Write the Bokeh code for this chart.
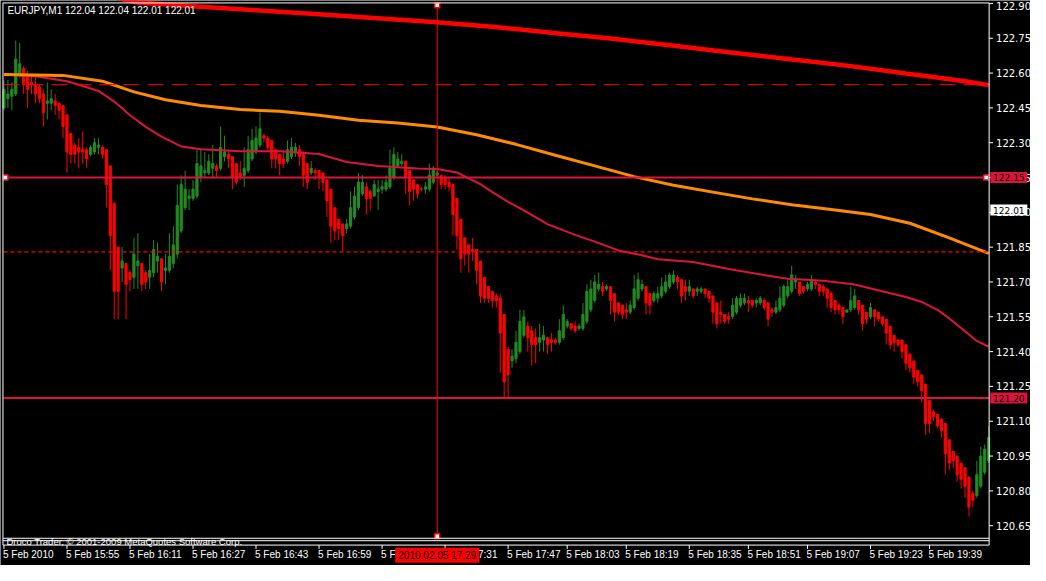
from bokeh.plotting import figure
from bokeh.models import ColumnDataSource, Range1d
from bokeh.core.properties import value
from bokeh.embed import file_html
from bokeh.resources import INLINE

# EURJPY, M1 - 5 Feb 2010, one entry per one-minute bar
opens = [
    122.45, 122.49, 122.50, 122.51, 122.59, 122.62, 122.59, 122.56, 122.55, 122.54,
    122.51, 122.47, 122.47, 122.48, 122.47, 122.46, 122.42, 122.34, 122.29, 122.28,
    122.27, 122.27, 122.25, 122.26, 122.28, 122.28, 122.27, 122.20, 122.04, 121.85,
    121.76, 121.78, 121.74, 121.72, 121.77, 121.78, 121.74, 121.72, 121.74, 121.79,
    121.80, 121.75, 121.75, 121.78, 121.82, 121.92, 122.02, 122.06, 122.06, 122.07,
    122.15, 122.17, 122.17, 122.19, 122.20, 122.19, 122.24, 122.25, 122.24, 122.21,
    122.17, 122.16, 122.18, 122.23, 122.26, 122.29, 122.33, 122.32, 122.31, 122.27,
    122.25, 122.23, 122.22, 122.24, 122.26, 122.27, 122.26, 122.21, 122.17, 122.18,
    122.18, 122.17, 122.14, 122.10, 122.02, 121.97, 121.95, 121.93, 121.94, 121.98,
    122.02, 122.08, 122.11, 122.09, 122.07, 122.09, 122.10, 122.10, 122.11, 122.15,
    122.20, 122.21, 122.22, 122.18, 122.14, 122.12, 122.10, 122.10, 122.10, 122.13,
    122.16, 122.16, 122.15, 122.13, 122.12, 122.06, 121.97, 121.89, 121.86, 121.84,
    121.84, 121.79, 121.72, 121.68, 121.66, 121.64, 121.63, 121.56, 121.41, 121.36,
    121.37, 121.40, 121.47, 121.51, 121.49, 121.46, 121.44, 121.45, 121.46, 121.45,
    121.45, 121.44, 121.46, 121.51, 121.52, 121.51, 121.50, 121.50, 121.53, 121.58,
    121.62, 121.67, 121.68, 121.67, 121.68, 121.65, 121.61, 121.60, 121.58, 121.57,
    121.59, 121.63, 121.67, 121.68, 121.65, 121.62, 121.63, 121.64, 121.66, 121.68,
    121.70, 121.72, 121.71, 121.68, 121.66, 121.67, 121.66, 121.66, 121.67, 121.66,
    121.64, 121.61, 121.57, 121.56, 121.55, 121.55, 121.57, 121.60, 121.61, 121.62,
    121.62, 121.61, 121.61, 121.62, 121.61, 121.58, 121.57, 121.58, 121.60, 121.64,
    121.66, 121.70, 121.70, 121.68, 121.67, 121.67, 121.70, 121.69, 121.68, 121.67,
    121.65, 121.62, 121.60, 121.59, 121.57, 121.58, 121.59, 121.62, 121.60, 121.57,
    121.55, 121.58, 121.57, 121.55, 121.54, 121.51, 121.47, 121.45, 121.45, 121.43,
    121.39, 121.36, 121.32, 121.30, 121.26, 121.19, 121.14, 121.13, 121.11, 121.09,
    121.02, 120.97, 120.95, 120.92, 120.90, 120.86, 120.79, 120.78, 120.82, 120.88,
    120.93,
]
highs = [
    122.57, 122.57, 122.56, 122.74, 122.73, 122.63, 122.61, 122.59, 122.59, 122.55,
    122.53, 122.56, 122.53, 122.51, 122.47, 122.46, 122.42, 122.34, 122.30, 122.32,
    122.35, 122.28, 122.29, 122.32, 122.32, 122.29, 122.27, 122.20, 122.04, 121.85,
    121.85, 121.78, 121.75, 121.89, 121.91, 121.78, 121.75, 121.82, 121.88, 121.87,
    121.80, 121.82, 121.91, 121.94, 122.12, 122.16, 122.18, 122.10, 122.14, 122.27,
    122.27, 122.26, 122.25, 122.29, 122.21, 122.37, 122.33, 122.26, 122.24, 122.21,
    122.22, 122.28, 122.33, 122.36, 122.37, 122.43, 122.34, 122.33, 122.31, 122.27,
    122.25, 122.27, 122.31, 122.32, 122.30, 122.29, 122.26, 122.21, 122.22, 122.19,
    122.18, 122.17, 122.14, 122.10, 122.02, 121.97, 121.95, 121.97, 122.09, 122.11,
    122.17, 122.16, 122.13, 122.10, 122.14, 122.14, 122.14, 122.16, 122.27, 122.28,
    122.26, 122.25, 122.22, 122.18, 122.14, 122.12, 122.11, 122.13, 122.21, 122.20,
    122.18, 122.16, 122.16, 122.15, 122.12, 122.06, 121.97, 121.89, 121.86, 121.89,
    121.84, 121.79, 121.72, 121.68, 121.66, 121.65, 121.65, 121.56, 121.42, 121.41,
    121.49, 121.58, 121.58, 121.53, 121.51, 121.50, 121.52, 121.51, 121.46, 121.48,
    121.46, 121.54, 121.60, 121.54, 121.52, 121.53, 121.52, 121.61, 121.69, 121.71,
    121.73, 121.74, 121.70, 121.69, 121.68, 121.65, 121.61, 121.60, 121.61, 121.62,
    121.73, 121.74, 121.71, 121.68, 121.65, 121.66, 121.68, 121.72, 121.73, 121.74,
    121.75, 121.73, 121.71, 121.71, 121.71, 121.67, 121.68, 121.68, 121.67, 121.66,
    121.64, 121.61, 121.62, 121.56, 121.57, 121.63, 121.64, 121.65, 121.65, 121.64,
    121.62, 121.63, 121.64, 121.63, 121.61, 121.59, 121.62, 121.68, 121.69, 121.71,
    121.77, 121.73, 121.70, 121.68, 121.70, 121.73, 121.71, 121.69, 121.69, 121.67,
    121.66, 121.62, 121.61, 121.59, 121.58, 121.68, 121.67, 121.62, 121.60, 121.57,
    121.61, 121.58, 121.57, 121.55, 121.54, 121.51, 121.47, 121.45, 121.45, 121.43,
    121.39, 121.36, 121.32, 121.30, 121.26, 121.19, 121.15, 121.13, 121.11, 121.09,
    121.02, 120.97, 120.95, 120.92, 120.90, 120.86, 120.80, 120.93, 120.99, 121.00,
    121.08,
]
lows = [
    122.44, 122.45, 122.44, 122.50, 122.58, 122.51, 122.45, 122.51, 122.47, 122.47,
    122.37, 122.40, 122.44, 122.42, 122.40, 122.32, 122.17, 122.21, 122.21, 122.19,
    122.21, 122.19, 122.24, 122.25, 122.25, 122.23, 122.02, 121.75, 121.54, 121.54,
    121.70, 121.54, 121.66, 121.67, 121.67, 121.66, 121.67, 121.67, 121.72, 121.74,
    121.66, 121.69, 121.74, 121.76, 121.80, 121.91, 122.01, 122.01, 122.05, 122.06,
    122.13, 122.15, 122.16, 122.15, 122.15, 122.18, 122.22, 122.19, 122.10, 122.12,
    122.14, 122.11, 122.17, 122.22, 122.25, 122.28, 122.30, 122.26, 122.19, 122.19,
    122.16, 122.19, 122.21, 122.23, 122.24, 122.20, 122.11, 122.10, 122.16, 122.14,
    122.10, 122.09, 121.98, 121.87, 121.88, 121.88, 121.83, 121.91, 121.93, 121.97,
    122.01, 122.07, 121.99, 122.01, 122.07, 122.01, 122.08, 122.09, 122.10, 122.14,
    122.20, 122.20, 122.08, 122.03, 122.05, 122.06, 122.09, 122.08, 122.09, 122.12,
    122.15, 122.10, 122.10, 122.09, 121.90, 121.84, 121.74, 121.77, 121.74, 121.79,
    121.69, 121.61, 121.61, 121.61, 121.59, 121.59, 121.31, 121.20, 121.20, 121.33,
    121.35, 121.39, 121.46, 121.40, 121.34, 121.35, 121.40, 121.40, 121.39, 121.40,
    121.43, 121.43, 121.45, 121.50, 121.49, 121.48, 121.49, 121.49, 121.52, 121.57,
    121.61, 121.66, 121.64, 121.66, 121.56, 121.53, 121.56, 121.54, 121.54, 121.56,
    121.58, 121.62, 121.66, 121.56, 121.56, 121.61, 121.61, 121.63, 121.65, 121.67,
    121.69, 121.67, 121.61, 121.62, 121.64, 121.63, 121.64, 121.65, 121.63, 121.61,
    121.52, 121.50, 121.52, 121.52, 121.52, 121.54, 121.56, 121.59, 121.60, 121.57,
    121.59, 121.59, 121.60, 121.58, 121.51, 121.55, 121.56, 121.57, 121.59, 121.63,
    121.65, 121.67, 121.64, 121.65, 121.66, 121.66, 121.67, 121.64, 121.64, 121.59,
    121.57, 121.56, 121.56, 121.52, 121.57, 121.57, 121.58, 121.56, 121.49, 121.52,
    121.54, 121.51, 121.53, 121.51, 121.43, 121.41, 121.40, 121.42, 121.37, 121.32,
    121.31, 121.26, 121.25, 121.18, 121.04, 121.05, 121.10, 121.07, 121.03, 120.87,
    120.89, 120.90, 120.84, 120.81, 120.77, 120.69, 120.73, 120.77, 120.81, 120.87,
    120.92,
]
closes = [
    122.53, 122.51, 122.53, 122.66, 122.64, 122.55, 122.53, 122.55, 122.51, 122.49,
    122.43, 122.48, 122.49, 122.46, 122.44, 122.37, 122.26, 122.25, 122.25, 122.26,
    122.26, 122.23, 122.28, 122.30, 122.29, 122.25, 122.12, 121.90, 121.66, 121.66,
    121.79, 121.69, 121.71, 121.82, 121.79, 121.69, 121.70, 121.75, 121.84, 121.81,
    121.70, 121.76, 121.81, 121.86, 122.03, 122.12, 122.10, 122.07, 122.10, 122.21,
    122.20, 122.18, 122.22, 122.21, 122.18, 122.28, 122.26, 122.23, 122.15, 122.13,
    122.15, 122.19, 122.27, 122.31, 122.32, 122.36, 122.32, 122.28, 122.23, 122.23,
    122.21, 122.21, 122.27, 122.28, 122.28, 122.24, 122.16, 122.13, 122.19, 122.17,
    122.15, 122.13, 122.05, 121.94, 121.92, 121.93, 121.90, 121.95, 122.02, 122.07,
    122.13, 122.13, 122.06, 122.06, 122.12, 122.10, 122.11, 122.13, 122.19, 122.25,
    122.23, 122.22, 122.15, 122.09, 122.10, 122.08, 122.10, 122.11, 122.16, 122.19,
    122.17, 122.12, 122.12, 122.11, 121.99, 121.90, 121.80, 121.82, 121.82, 121.83,
    121.75, 121.64, 121.63, 121.63, 121.62, 121.62, 121.48, 121.27, 121.30, 121.38,
    121.44, 121.53, 121.55, 121.46, 121.43, 121.43, 121.46, 121.47, 121.43, 121.44,
    121.44, 121.49, 121.56, 121.53, 121.50, 121.49, 121.51, 121.56, 121.66, 121.67,
    121.70, 121.69, 121.66, 121.68, 121.62, 121.57, 121.57, 121.56, 121.57, 121.60,
    121.67, 121.71, 121.69, 121.61, 121.60, 121.65, 121.65, 121.68, 121.70, 121.73,
    121.73, 121.70, 121.64, 121.66, 121.68, 121.64, 121.67, 121.67, 121.65, 121.63,
    121.57, 121.52, 121.56, 121.53, 121.54, 121.60, 121.63, 121.63, 121.63, 121.61,
    121.60, 121.62, 121.63, 121.59, 121.54, 121.57, 121.59, 121.63, 121.68, 121.68,
    121.73, 121.71, 121.65, 121.66, 121.69, 121.71, 121.69, 121.66, 121.66, 121.63,
    121.59, 121.58, 121.58, 121.55, 121.58, 121.62, 121.64, 121.58, 121.52, 121.54,
    121.59, 121.55, 121.54, 121.52, 121.48, 121.43, 121.44, 121.43, 121.40, 121.35,
    121.33, 121.29, 121.27, 121.23, 121.09, 121.09, 121.12, 121.08, 121.06, 120.96,
    120.92, 120.93, 120.87, 120.85, 120.82, 120.73, 120.76, 120.87, 120.95, 120.98,
    121.03,
]

# moving averages, read at a number of bars
ma_slow_bars = [28, 34, 49, 64, 79, 94, 109, 124, 139, 154, 169, 184, 199, 214, 229, 244, 250]
ma_slow = [122.925, 122.904, 122.887, 122.871, 122.854, 122.837, 122.820, 122.800, 122.774,
           122.749, 122.720, 122.690, 122.661, 122.632, 122.598, 122.565, 122.548]

ma_mid_bars = [0, 15, 25, 33, 41, 50, 60, 70, 80, 90, 100, 110, 120, 130, 140, 150, 160,
               170, 180, 190, 200, 210, 220, 230, 240, 250]
ma_mid = [122.594, 122.590, 122.565, 122.519, 122.485, 122.460, 122.443, 122.435, 122.418,
          122.397, 122.385, 122.368, 122.334, 122.293, 122.246, 122.200, 122.154, 122.117,
          122.087, 122.058, 122.033, 122.012, 121.991, 121.953, 121.890, 121.823]

ma_fast_bars = [0, 8, 16, 20, 24, 28, 32, 36, 40, 45, 50, 60, 70, 80, 87, 95, 105, 110, 115,
                118, 121, 124, 128, 132, 138, 145, 150, 156, 162, 166, 175, 184, 194, 199,
                208, 216, 224, 229, 233, 237, 240, 244, 247, 250]
ma_fast = [122.594, 122.586, 122.565, 122.544, 122.523, 122.477, 122.418, 122.368, 122.326,
           122.284, 122.272, 122.263, 122.263, 122.251, 122.217, 122.200, 122.189, 122.187,
           122.172, 122.146, 122.121, 122.087, 122.045, 122.008, 121.949, 121.903, 121.874,
           121.836, 121.815, 121.798, 121.786, 121.756, 121.727, 121.714, 121.705, 121.689,
           121.656, 121.635, 121.614, 121.580, 121.543, 121.488, 121.446, 121.421]

# horizontal lines
support_lines = [122.15, 121.20]
dash_level = 122.55
dot_level = 121.83
bid_price = 122.01
cursor_bar = 110
cursor_label = "2010.02.05 17:29"
header = "EURJPY,M1  122.04 122.04 122.01 122.01"
footer = "Droco Trader, \u00a9 2001-2009 MetaQuotes Software Corp."

price_ticks = [122.90, 122.75, 122.60, 122.45, 122.30, 122.15, 122.00, 121.85, 121.70,
               121.55, 121.40, 121.25, 121.10, 120.95, 120.80, 120.65]
price_tick_labels = ["122.90", "122.75", "122.60", "122.45", "122.30", "122.15", "122.00",
                     "121.85", "121.70", "121.55", "121.40", "121.25", "121.10", "120.95",
                     "120.80", "120.65"]
time_tick_bars = [0, 16, 32, 48, 64, 80, 96, 112, 128, 143, 158, 174, 189, 204, 220, 235]
time_tick_labels = ["5 Feb 2010", "5 Feb 15:55", "5 Feb 16:11", "5 Feb 16:27", "5 Feb 16:43",
                    "5 Feb 16:59", "5 Feb 17:15", "5 Feb 17:31", "5 Feb 17:47", "5 Feb 18:03",
                    "5 Feb 18:19", "5 Feb 18:35", "5 Feb 18:51", "5 Feb 19:07", "5 Feb 19:23",
                    "5 Feb 19:39"]

GREEN = "#228B22"
RED = "#FF0000"
CRIMSON = "#DC143C"
ORANGE = "#FF8C00"
FONT = value("Liberation Sans")
AXFONT = value("DejaVu Sans")


# layout helpers: place things by the pixel grid of the original 1046x581 screen
def bx(px):
    return (px - 3.5) / 4.0


def py(px):
    return 122.9126 - px / 238.7


p = figure(width=1030, height=565, output_backend="svg", toolbar_location=None,
           x_range=Range1d(bx(0), bx(1046)), y_range=Range1d(py(581), py(0)),
           x_axis_type=None, y_axis_type=None, min_border=0,
           background_fill_color="black", border_fill_color="black",
           outline_line_color=None)
p.grid.visible = False

bars = list(range(len(opens)))
src = ColumnDataSource(data=dict(
    x=bars, o=opens, h=highs, l=lows, c=closes,
    top=[max(o, c) for o, c in zip(opens, closes)],
    bottom=[min(o, c) for o, c in zip(opens, closes)],
    color=[GREEN if c > o else RED for o, c in zip(opens, closes)],
))

# candles
p.segment(x0="x", y0="l", x1="x", y1="h", line_color="color", line_width=1, source=src)
p.vbar(x="x", width=0.55, top="top", bottom="bottom", fill_color="color",
       line_color="color", line_width=1, source=src)

# moving averages
p.line(ma_fast_bars, ma_fast, line_color=CRIMSON, line_width=2)
p.line(ma_mid_bars, ma_mid, line_color=ORANGE, line_width=3)
p.line(ma_slow_bars, ma_slow, line_color=RED, line_width=4.5)

# level lines
left, right = bx(3), bx(1004)
for lv in support_lines:
    p.segment(x0=[left], y0=[lv], x1=[right], y1=[lv], line_color=CRIMSON, line_width=2)
p.segment(x0=[left], y0=[dash_level], x1=[right], y1=[dash_level], line_color=RED,
          line_width=1, line_dash="16 8")
p.segment(x0=[left], y0=[dot_level], x1=[right], y1=[dot_level], line_color=RED,
          line_width=1.3, line_dash="4 3")
p.scatter([bx(5), bx(1001)], [support_lines[0]] * 2, marker="square", size=5,
          fill_color="white", line_color=CRIMSON, line_width=1.5)

# cursor line
p.segment(x0=[cursor_bar], y0=[py(3)], x1=[cursor_bar], y1=[py(552)], line_color=RED, line_width=1)
p.scatter([cursor_bar, cursor_bar], [py(5), py(551)], marker="square", size=5,
          fill_color="white", line_color=RED, line_width=1.5)

# frame
fx0 = [bx(2.5), bx(2.5), bx(1004), bx(2.5), bx(2.5), bx(2.5), bx(2.5)]
fy0 = [py(2.5), py(2.5), py(2.5), py(553), py(555.5), py(560), py(553)]
fx1 = [bx(1004), bx(2.5), bx(1004), bx(1004), bx(1004), bx(1004), bx(2.5)]
fy1 = [py(2.5), py(553), py(560), py(553), py(555.5), py(560), py(560)]
p.segment(x0=fx0, y0=fy0, x1=fx1, y1=fy1, line_color="white", line_width=1)

# price axis
p.segment(x0=[bx(1004)] * len(price_ticks), y0=price_ticks,
          x1=[bx(1008)] * len(price_ticks), y1=price_ticks, line_color="white", line_width=1)
p.text(x=[bx(1011)] * (len(price_ticks) - 1), y=price_ticks[1:], text=price_tick_labels[1:],
       text_font=AXFONT, text_font_size="10px", text_color="white",
       text_align="left", text_baseline="middle")
p.text(x=[bx(1011)], y=price_ticks[:1], text=price_tick_labels[:1],
       text_font=AXFONT, text_font_size="10px", text_color="white",
       text_align="left", text_baseline="middle", y_offset=3)

# time axis
p.segment(x0=time_tick_bars, y0=[py(560)] * len(time_tick_bars), x1=time_tick_bars,
          y1=[py(564)] * len(time_tick_bars), line_color="white", line_width=1)
p.text(x=time_tick_bars, y=[py(570)] * len(time_tick_bars), text=time_tick_labels,
       text_font=FONT, text_font_size="10px", text_color="white",
       text_align="left", text_baseline="middle", x_offset=-1)

# price tags on the right
tag_y = [support_lines[0], bid_price, support_lines[1]]
tag_fill = [CRIMSON, "white", CRIMSON]
p.rect(x=[bx(1024)] * 3, y=tag_y, width=37, height=11, width_units="screen",
       height_units="screen", fill_color=tag_fill, line_color=None)
p.text(x=[bx(1024)] * 3, y=tag_y, text=[f"{v:.2f}" for v in tag_y],
       text_font=AXFONT, text_font_size="9px", text_color="black",
       text_align="center", text_baseline="middle")

# cursor time tag
p.rect(x=[cursor_bar], y=[py(570.5)], width=84, height=15, width_units="screen",
       height_units="screen", fill_color=RED, line_color=None)
p.text(x=[cursor_bar], y=[py(570.5)], text=[cursor_label], text_font=FONT,
       text_font_size="10px", text_color="black", text_align="center", text_baseline="middle")

# header and footer
p.text(x=[bx(7)], y=[py(10.5)], text=[header], text_font=FONT, text_font_size="10px",
       text_color="white", text_align="left", text_baseline="middle")
p.text(x=[bx(6)], y=[py(556.5)], text=[footer], text_font=FONT, text_font_size="9.5px",
       text_color="white", text_align="left", text_baseline="middle")

open("out.html", "w").write(file_html(p, INLINE))
